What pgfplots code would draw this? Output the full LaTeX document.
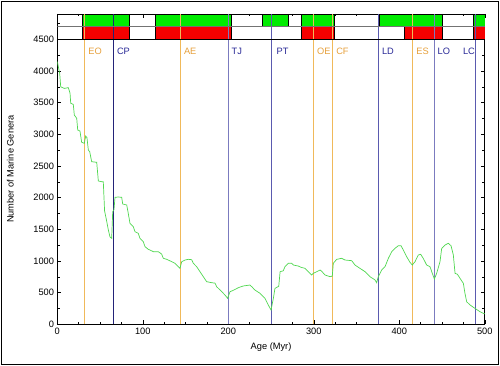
\documentclass[border=0pt]{standalone}
\usepackage{pgfplots}
\pgfplotsset{compat=1.18}
\usepackage{fontspec}
\setmainfont{Liberation Sans}
\definecolor{curve}{RGB}{80,215,80}
\definecolor{evorange}{RGB}{240,185,90}
\definecolor{evblue}{RGB}{90,90,175}
\definecolor{evnavy}{RGB}{35,35,120}
\definecolor{txorange}{RGB}{230,160,60}
\definecolor{txblue}{RGB}{40,40,150}
\definecolor{boxgreen}{RGB}{0,235,0}
\definecolor{boxred}{RGB}{245,0,0}
\begin{document}
\fontsize{9.3}{11}\selectfont
\begin{tikzpicture}
\useasboundingbox (-57.3bp,-41.7bp) rectangle (442.7bp,324.3bp);
\begin{axis}[
  scale only axis, width=427.5bp, height=310.3bp,
  xmin=0, xmax=500, ymin=0, ymax=4900,
  xtick={0,100,...,500}, minor x tick num=3,
  ytick={0,500,...,4500}, minor ytick={250,750,...,4750},
  major tick length=4bp, minor tick length=2.5bp,
  tick style={black, line width=0.5bp},
  /pgf/number format/assume math mode=true,
  /pgf/number format/1000 sep={},
  ticklabel style={font=\fontsize{9.3}{11}\selectfont},
  axis line style={line width=0.7bp},
  xlabel={Age (Myr)}, ylabel={Number of Marine Genera},
  xlabel style={at={(axis description cs:0.5,0)}, anchor=center, yshift=-23bp},
  ylabel style={at={(axis description cs:0,0.5)}, anchor=center, rotate=0, yshift=47bp},
  clip=true,
]
% top strip boxes: green row (4700-4900)
\addplot[fill=boxgreen, draw=black, line width=0.5bp] coordinates {(29.2,4700) (83.9,4700) (83.9,4900) (29.2,4900)} -- cycle;
\addplot[fill=boxgreen, draw=black, line width=0.5bp] coordinates {(115.1,4700) (204,4700) (204,4900) (115.1,4900)} -- cycle;
\addplot[fill=boxgreen, draw=black, line width=0.5bp] coordinates {(239.8,4700) (270.2,4700) (270.2,4900) (239.8,4900)} -- cycle;
\addplot[fill=boxgreen, draw=black, line width=0.5bp] coordinates {(285,4700) (324,4700) (324,4900) (285,4900)} -- cycle;
\addplot[fill=boxgreen, draw=black, line width=0.5bp] coordinates {(376.3,4700) (450.3,4700) (450.3,4900) (376.3,4900)} -- cycle;
\addplot[fill=boxgreen, draw=black, line width=0.5bp] coordinates {(487,4700) (500,4700) (500,4900) (487,4900)} -- cycle;
% red row (4500-4700)
\addplot[fill=boxred, draw=black, line width=0.5bp] coordinates {(29.2,4500) (83.9,4500) (83.9,4700) (29.2,4700)} -- cycle;
\addplot[fill=boxred, draw=black, line width=0.5bp] coordinates {(115.1,4500) (204,4500) (204,4700) (115.1,4700)} -- cycle;
\addplot[fill=boxred, draw=black, line width=0.5bp] coordinates {(285,4500) (324,4500) (324,4700) (285,4700)} -- cycle;
\addplot[fill=boxred, draw=black, line width=0.5bp] coordinates {(405.9,4500) (450.3,4500) (450.3,4700) (405.9,4700)} -- cycle;
\addplot[fill=boxred, draw=black, line width=0.5bp] coordinates {(487,4500) (500,4500) (500,4700) (487,4700)} -- cycle;
% event lines
\addplot[evorange, line width=0.9bp] coordinates {(32,0) (32,4900)};
\addplot[evnavy, line width=0.9bp] coordinates {(65.5,0) (65.5,4900)};
\addplot[evorange, line width=0.9bp] coordinates {(143.9,0) (143.9,4900)};
\addplot[evblue!80, line width=0.9bp] coordinates {(199.6,0) (199.6,4900)};
\addplot[evblue, line width=0.9bp] coordinates {(251,0) (251,4900)};
\addplot[evorange, line width=0.9bp] coordinates {(299.5,0) (299.5,4900)};
\addplot[evorange, line width=0.9bp] coordinates {(322,0) (322,4900)};
\addplot[evblue, line width=0.9bp] coordinates {(375.5,0) (375.5,4900)};
\addplot[evorange, line width=0.9bp] coordinates {(415.6,0) (415.6,4900)};
\addplot[evblue!80, line width=0.9bp] coordinates {(440.6,0) (440.6,4900)};
\addplot[evblue, line width=0.9bp] coordinates {(488.9,0) (488.9,4900)};
% strip separators
\addplot[black!55, line width=0.6bp] coordinates {(0,4700) (500,4700)};
\addplot[black, line width=1bp] coordinates {(0,4500) (500,4500)};
% genera curve
\addplot[curve, line width=0.7bp] coordinates {
(0,4150) (2.8,3960) (4,3750) (8.2,3725) (12.9,3737) (14.9,3650) (15.7,3490) (18.7,3473)
(19.9,3305) (22.7,3253) (23.9,3068) (26.5,3052) (28.5,2874) (31.6,2858) (33.2,2973) (34.7,2947)
(36.3,2752) (37.9,2726) (40.2,2568) (46.1,2558) (48,2263) (51.9,2252) (53.8,2252) (55.3,1790)
(57.3,1660) (59.7,1490) (61.6,1380) (63.6,1357) (64.8,1780) (66.3,1810) (67.5,2005) (71.4,2010)
(75.3,2005) (76.5,1900) (81.2,1884) (83,1752) (85,1595) (88.9,1541) (90.9,1463) (94.7,1437)
(96.7,1358) (100.6,1305) (102.6,1226) (106.4,1184) (108.4,1173) (112.3,1147) (118,1147) (122,1110)
(124,1042) (128,1026) (133.8,989) (137.7,963) (141.5,910) (143.5,884) (145.5,989) (149.4,1015)
(153.2,1026) (157.2,1020) (159.1,963) (163,910) (166.9,831) (170.8,752) (174.7,673) (180.6,657)
(184.5,650) (186.4,594) (192.3,515) (196.1,463) (199.2,410) (202,515) (205.8,536) (211.7,578)
(217.5,605) (225.3,620) (227.4,594) (231.2,541) (237.1,489) (242.9,410) (246.8,305) (250,226)
(252.7,410) (254.6,568) (259,600) (260.6,831) (264.3,845) (266.3,910) (270.2,963) (274.2,963)
(276.1,936) (281.9,920) (285,900) (289.7,884) (293.6,831) (297.5,778) (299.5,805) (303.4,831)
(307.3,857) (309,840) (313.2,778) (319,752) (321.6,760) (322.8,963) (326.8,1026) (332.6,1042)
(336.5,1015) (344.3,1005) (348.2,936) (354,884) (359.9,831) (365.7,752) (371.6,700) (373.5,657)
(375.4,752) (379.4,857) (383.3,910) (387.2,1042) (391.1,1147) (395,1200) (398.9,1241) (402,1241)
(404.7,1173) (408.6,1068) (412.5,979) (415.2,936) (418.4,989) (422.2,1094) (425,1105) (428,1042)
(432,936) (435.9,910) (438.6,805) (441,715) (443.7,805) (447.6,989) (449.6,1200) (453.5,1252)
(457.3,1279) (460.5,1241) (463.2,1094) (465.2,805) (468,790) (471,726) (474.9,647) (476.8,489)
(478.8,357) (482.7,305) (488.5,252) (494.3,199) (498.2,173) (500,165)
};
% event labels
\node[anchor=west, inner sep=0, xshift=3.5bp, text=txorange] at (axis cs:32,4304) {EO};
\node[anchor=west, inner sep=0, xshift=3.5bp, text=txblue] at (axis cs:65.5,4304) {CP};
\node[anchor=west, inner sep=0, xshift=3.5bp, text=txorange] at (axis cs:143.9,4304) {AE};
\node[anchor=west, inner sep=0, xshift=3.5bp, text=txblue] at (axis cs:199.6,4304) {TJ};
\node[anchor=west, inner sep=0, xshift=4.5bp, text=txblue] at (axis cs:251,4304) {PT};
\node[anchor=west, inner sep=0, xshift=3.5bp, text=txorange] at (axis cs:299.5,4304) {OE};
\node[anchor=west, inner sep=0, xshift=3.5bp, text=txorange] at (axis cs:322,4304) {CF};
\node[anchor=west, inner sep=0, xshift=3.5bp, text=txblue] at (axis cs:375.5,4304) {LD};
\node[anchor=west, inner sep=0, xshift=3.5bp, text=txorange] at (axis cs:415.6,4304) {ES};
\node[anchor=west, inner sep=0, xshift=3.5bp, text=txblue] at (axis cs:440.6,4304) {LO};
\node[anchor=west, inner sep=0, text=txblue] at (axis cs:474.3,4304) {LC};
\end{axis}
\draw[line width=0.9bp] (-56.3bp,-40bp) rectangle (440.7bp,323.3bp);
\end{tikzpicture}
\end{document}
